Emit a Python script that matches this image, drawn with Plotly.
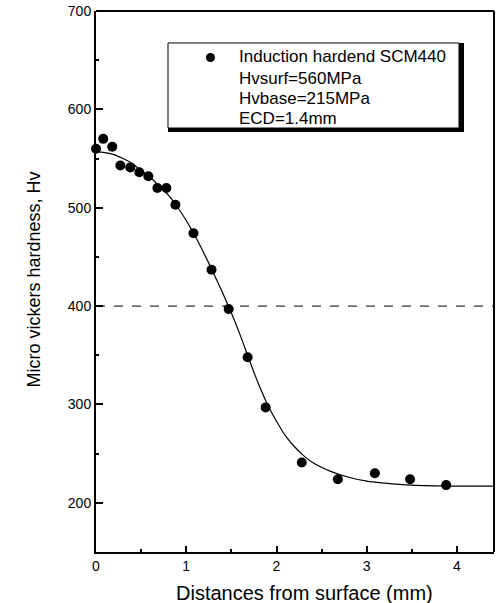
import plotly.graph_objects as go

# Measured points (distance mm, micro Vickers hardness Hv)
depth_mm = [0.0, 0.08, 0.18, 0.27, 0.38, 0.48, 0.58, 0.68, 0.78, 0.88,
            1.08, 1.28, 1.47, 1.68, 1.88, 2.28, 2.68, 3.09, 3.48, 3.88]
hardness_hv = [560, 570, 562, 543, 541, 536, 532, 520, 520, 503,
               474, 437, 397, 348, 297, 241, 224, 230, 224, 218]

# Fitted curve
curve_x = [0.0, 0.1, 0.2, 0.3, 0.4, 0.5, 0.6, 0.7, 0.8, 0.9, 1.0, 1.1, 1.2,
           1.3, 1.4, 1.5, 1.6, 1.7, 1.8, 1.9, 2.0, 2.1, 2.2, 2.3, 2.4, 2.6,
           2.8, 3.0, 3.2, 3.5, 4.0, 4.42]
curve_y = [557, 556, 554, 550, 545, 538, 531, 522, 513, 501, 487, 471, 453,
           434, 414, 393, 370, 345, 321, 300, 283, 268, 257, 248, 241, 232,
           226, 222, 220, 218, 217, 217]

ecd_hardness = 400
x_ticks = [0, 1, 2, 3, 4]
y_ticks = [200, 300, 400, 500, 600, 700]
legend_lines = ["Induction hardend SCM440", "Hvsurf=560MPa",
                "Hvbase=215MPa", "ECD=1.4mm"]
x_title = "Distances from surface (mm)"
y_title = "Micro vickers hardness, Hv"

W, H = 498, 603
L, T, PW, PH = 96, 11, 398, 541
FONT = "Arial, Liberation Sans, Helvetica, sans-serif"


def px(x):
    return (x - L) / PW


def py(y):
    return (T + PH - y) / PH


fig = go.Figure()
fig.add_trace(go.Scatter(x=curve_x, y=curve_y, mode="lines",
                         line=dict(color="black", width=1.2, shape="spline"),
                         showlegend=False, hoverinfo="skip"))
fig.add_trace(go.Scatter(x=depth_mm, y=hardness_hv, mode="markers",
                         marker=dict(color="black", size=10),
                         cliponaxis=False, showlegend=False))

# plot frame (top and right sides)
fig.add_shape(type="line", xref="paper", yref="paper", x0=0, x1=1, y0=1,
              y1=1, line=dict(color="black", width=2), layer="above")
fig.add_shape(type="line", xref="paper", yref="paper", x0=1, x1=1, y0=0,
              y1=1, line=dict(color="black", width=2), layer="above")

# dashed ECD level line
fig.add_shape(type="line", xref="paper", yref="y", x0=0, x1=1,
              y0=ecd_hardness, y1=ecd_hardness,
              line=dict(color="black", width=1, dash="dash"))

# legend box with shadow
fig.add_shape(type="rect", xref="paper", yref="paper",
              x0=px(168), x1=px(464), y0=py(132), y1=py(43),
              fillcolor="black", line=dict(width=0))
fig.add_shape(type="rect", xref="paper", yref="paper",
              x0=px(168), x1=px(459), y0=py(128), y1=py(43),
              fillcolor="white", line=dict(color="black", width=1))
fig.add_shape(type="circle", xref="paper", yref="paper",
              x0=px(206), x1=px(215), y0=py(62), y1=py(53),
              fillcolor="black", line=dict(width=0))
for txt, yy in zip(legend_lines, [57, 78, 99, 119]):
    fig.add_annotation(xref="paper", yref="paper", x=px(237), y=py(yy),
                       text=txt, showarrow=False, xanchor="left",
                       yanchor="middle",
                       font=dict(family=FONT, size=17, color="black"))

# axis titles
fig.add_annotation(xref="paper", yref="paper", x=px(304.5), y=py(593),
                   text=x_title, showarrow=False, xanchor="center",
                   yanchor="middle",
                   font=dict(family=FONT, size=20, color="black"))
fig.add_annotation(xref="paper", yref="paper", x=px(33), y=py(279.5),
                   text=y_title, showarrow=False, xanchor="center",
                   yanchor="middle", textangle=-90,
                   font=dict(family=FONT, size=18, color="black"))

fig.update_xaxes(range=[0, 4.41], tickvals=x_ticks,
                 ticktext=[str(v) for v in x_ticks],
                 ticks="inside", ticklen=6, tickwidth=1.5, tickcolor="black",
                 minor=dict(ticks="inside", ticklen=3, dtick=0.5,
                            tickcolor="black"),
                 showline=True, linecolor="black", linewidth=2,
                 showgrid=False, zeroline=False,
                 tickfont=dict(family=FONT, size=14, color="black"))
fig.update_yaxes(range=[150, 700], tickvals=y_ticks,
                 ticktext=[str(v) for v in y_ticks],
                 ticks="inside", ticklen=7, tickwidth=1.5, tickcolor="black",
                 minor=dict(ticks="inside", ticklen=3, dtick=50,
                            tickcolor="black"),
                 showline=True, linecolor="black", linewidth=2,
                 showgrid=False, zeroline=False,
                 tickfont=dict(family=FONT, size=14, color="black"))

fig.update_layout(width=W, height=H,
                  margin=dict(l=L, r=W - L - PW, t=T, b=H - T - PH),
                  paper_bgcolor="white", plot_bgcolor="white",
                  showlegend=False)

fig.write_html("out.html", config={"displayModeBar": False},
               post_script="document.body.style.margin='0';"
                           "document.body.style.overflow='hidden';")
